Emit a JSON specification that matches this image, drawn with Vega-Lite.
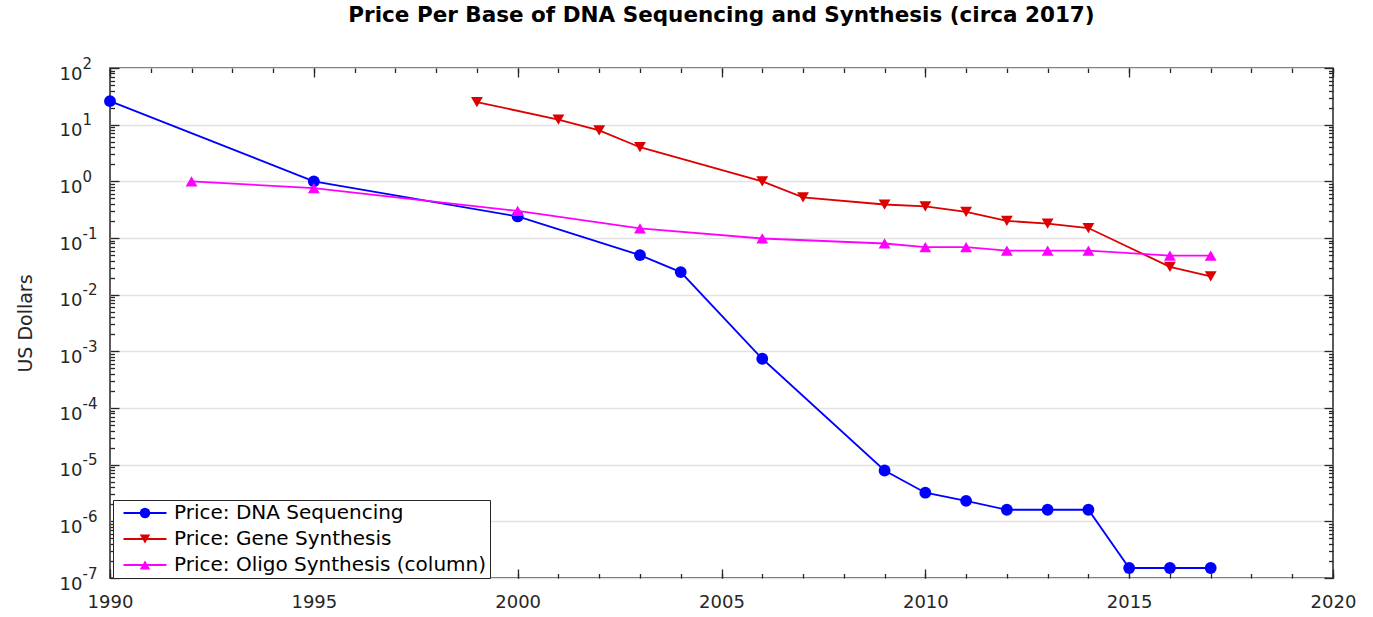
{
  "$schema": "https://vega.github.io/schema/vega-lite/v6.json",
  "width": 1223,
  "height": 510,
  "autosize": {"type": "none"},
  "padding": {"left": 110, "top": 68, "right": 40, "bottom": 39},
  "background": "white",
  "title": {"text": "Price Per Base of DNA Sequencing and Synthesis (circa 2017)", "font": "DejaVu Sans", "fontSize": 21.5, "fontWeight": "bold", "color": "#000000", "anchor": "middle", "offset": 30},
  "config": {
    "view": {"stroke": "#262626", "strokeWidth": 1.5},
    "axis": {"domain": false, "labelFont": "DejaVu Sans", "labelColor": "#262626", "tickColor": "#262626", "tickWidth": 1.3, "titleFont": "DejaVu Sans", "labelFlush": false, "labelOverlap": false, "labelBound": false}
  },
  "data": {"values": [
    {"series": "Price: DNA Sequencing", "year": 1990, "price": 26},
    {"series": "Price: DNA Sequencing", "year": 1995, "price": 1.0},
    {"series": "Price: DNA Sequencing", "year": 2000, "price": 0.24},
    {"series": "Price: DNA Sequencing", "year": 2003, "price": 0.05},
    {"series": "Price: DNA Sequencing", "year": 2004, "price": 0.025},
    {"series": "Price: DNA Sequencing", "year": 2006, "price": 0.00074},
    {"series": "Price: DNA Sequencing", "year": 2009, "price": 0.0000079},
    {"series": "Price: DNA Sequencing", "year": 2010, "price": 0.0000032},
    {"series": "Price: DNA Sequencing", "year": 2011, "price": 0.0000023},
    {"series": "Price: DNA Sequencing", "year": 2012, "price": 0.0000016},
    {"series": "Price: DNA Sequencing", "year": 2013, "price": 0.0000016},
    {"series": "Price: DNA Sequencing", "year": 2014, "price": 0.0000016},
    {"series": "Price: DNA Sequencing", "year": 2015, "price": 1.5e-7},
    {"series": "Price: DNA Sequencing", "year": 2016, "price": 1.5e-7},
    {"series": "Price: DNA Sequencing", "year": 2017, "price": 1.5e-7},
    {"series": "Price: Gene Synthesis", "year": 1999, "price": 25},
    {"series": "Price: Gene Synthesis", "year": 2001, "price": 12.3},
    {"series": "Price: Gene Synthesis", "year": 2002, "price": 7.9},
    {"series": "Price: Gene Synthesis", "year": 2003, "price": 4.0},
    {"series": "Price: Gene Synthesis", "year": 2006, "price": 1.0},
    {"series": "Price: Gene Synthesis", "year": 2007, "price": 0.52},
    {"series": "Price: Gene Synthesis", "year": 2009, "price": 0.39},
    {"series": "Price: Gene Synthesis", "year": 2010, "price": 0.36},
    {"series": "Price: Gene Synthesis", "year": 2011, "price": 0.29},
    {"series": "Price: Gene Synthesis", "year": 2012, "price": 0.2},
    {"series": "Price: Gene Synthesis", "year": 2013, "price": 0.18},
    {"series": "Price: Gene Synthesis", "year": 2014, "price": 0.15},
    {"series": "Price: Gene Synthesis", "year": 2016, "price": 0.031},
    {"series": "Price: Gene Synthesis", "year": 2017, "price": 0.021},
    {"series": "Price: Oligo Synthesis (column)", "year": 1992, "price": 1.0},
    {"series": "Price: Oligo Synthesis (column)", "year": 1995, "price": 0.76},
    {"series": "Price: Oligo Synthesis (column)", "year": 2000, "price": 0.3},
    {"series": "Price: Oligo Synthesis (column)", "year": 2003, "price": 0.148},
    {"series": "Price: Oligo Synthesis (column)", "year": 2006, "price": 0.098},
    {"series": "Price: Oligo Synthesis (column)", "year": 2009, "price": 0.08},
    {"series": "Price: Oligo Synthesis (column)", "year": 2010, "price": 0.069},
    {"series": "Price: Oligo Synthesis (column)", "year": 2011, "price": 0.069},
    {"series": "Price: Oligo Synthesis (column)", "year": 2012, "price": 0.06},
    {"series": "Price: Oligo Synthesis (column)", "year": 2013, "price": 0.06},
    {"series": "Price: Oligo Synthesis (column)", "year": 2014, "price": 0.06},
    {"series": "Price: Oligo Synthesis (column)", "year": 2016, "price": 0.049},
    {"series": "Price: Oligo Synthesis (column)", "year": 2017, "price": 0.049}
  ]},
  "layer": [
    {
      "mark": {"type": "line", "strokeWidth": 1.8},
      "encoding": {
        "x": {"field": "year", "type": "quantitative", "scale": {"domain": [1990, 2020], "nice": false, "zero": false},
          "axis": {"orient": "bottom", "values": [1990, 1995, 2000, 2005, 2010, 2015, 2020], "format": "d", "title": null, "grid": false, "ticks": true, "tickSize": -9, "labelPadding": 24, "labelFontSize": 18}},
        "y": {"field": "price", "type": "quantitative", "scale": {"type": "log", "domain": [1e-7, 100], "nice": false},
          "axis": {"orient": "left", "values": [1e-7, 1e-6, 1e-5, 1e-4, 1e-3, 1e-2, 1e-1, 1, 10, 100], "labelExpr": "'10'", "labelFontSize": 18, "labelAlign": "right", "labelBaseline": "middle", "labelOffset": 6, "ticks": true, "tickSize": -9, "labelPadding": 37, "grid": true, "gridColor": "#e3e3e3", "gridWidth": 1.5, "title": "US Dollars", "titleFontSize": 19, "titleFontWeight": "normal", "titleColor": "#262626", "titleX": -79, "titleY": 255, "titleBaseline": "alphabetic", "titleAngle": -90, "titleAlign": "center",
            "encode": {"labels": {"update": {"dx": {"signal": "datum.value < 1 ? -5 : 0"}}}}}},
        "color": {"field": "series", "type": "nominal",
          "scale": {"domain": ["Price: DNA Sequencing", "Price: Gene Synthesis", "Price: Oligo Synthesis (column)"], "range": ["#0000ff", "#dd0000", "#ff00ff"]},
          "legend": {"title": null, "orient": "none", "legendX": 3, "legendY": 432, "direction": "vertical", "strokeColor": "#262626", "fillColor": "white", "padding": 3, "labelFont": "DejaVu Sans", "labelFontSize": 20, "labelColor": "#000000", "labelLimit": 400, "symbolType": "M-4.3,0H4.3", "symbolSize": 100, "symbolStrokeWidth": 1.8, "symbolOffset": 19, "labelOffset": 19, "rowPadding": 6, "clipHeight": 20}}
      }
    },
    {
      "mark": {"type": "point", "filled": true, "opacity": 1},
      "encoding": {
        "x": {"field": "year", "type": "quantitative", "scale": {"domain": [1990, 2020], "nice": false, "zero": false},
          "axis": {"orient": "bottom", "values": [1990, 1991, 1992, 1993, 1994, 1995, 1996, 1997, 1998, 1999, 2000, 2001, 2002, 2003, 2004, 2005, 2006, 2007, 2008, 2009, 2010, 2011, 2012, 2013, 2014, 2015, 2016, 2017, 2018, 2019, 2020], "labels": false, "ticks": true, "tickSize": -4.5, "grid": false, "title": null}},
        "y": {"field": "price", "type": "quantitative", "scale": {"type": "log", "domain": [1e-7, 100], "nice": false},
          "axis": {"orient": "left", "values": [1e-7, 1e-6, 1e-5, 1e-4, 1e-3, 1e-2, 1e-1, 1, 10, 100], "labelExpr": "'' + round(log(datum.value) / LN10)", "labelFontSize": 15, "labelAlign": "left", "labelBaseline": "middle", "labelOffset": -5, "ticks": false, "labelPadding": 28, "grid": false, "title": null,
            "encode": {"labels": {"update": {"dx": {"signal": "datum.value < 1 ? -5 : 0"}}}}}},
        "fill": {"field": "series", "type": "nominal",
          "scale": {"range": ["#0000ff", "#dd0000", "#ff00ff"]},
          "legend": {"title": null, "orient": "none", "legendX": 3, "legendY": 432, "direction": "vertical", "strokeColor": "transparent", "fillColor": "transparent", "padding": 3, "labelFont": "DejaVu Sans", "labelFontSize": 20, "labelOpacity": 0, "labelLimit": 400, "symbolSize": 110, "symbolStrokeWidth": 0, "symbolOffset": 19, "labelOffset": 19, "rowPadding": 6, "clipHeight": 20}},
        "shape": {"field": "series", "type": "nominal",
          "scale": {"range": ["circle", "triangle-down", "triangle-up"]},
          "legend": {"title": null, "orient": "none", "legendX": 3, "legendY": 432, "direction": "vertical", "strokeColor": "transparent", "fillColor": "transparent", "padding": 3, "labelFont": "DejaVu Sans", "labelFontSize": 20, "labelOpacity": 0, "labelLimit": 400, "symbolSize": 110, "symbolStrokeWidth": 0, "symbolOffset": 19, "labelOffset": 19, "rowPadding": 6, "clipHeight": 20}},
        "size": {"field": "series", "type": "nominal",
          "scale": {"domain": ["Price: Gene Synthesis", "Price: Oligo Synthesis (column)", "Price: DNA Sequencing"], "range": [140, 140, 100]},
          "legend": null}
      }
    },
    {
      "transform": [{"filter": "datum.year < 1900"}],
      "mark": {"type": "point", "opacity": 0},
      "encoding": {
        "x": {"field": "year", "type": "quantitative", "scale": {"domain": [1990, 2020], "nice": false, "zero": false},
          "axis": {"orient": "top", "values": [1990, 1995, 2000, 2005, 2010, 2015, 2020], "labels": false, "ticks": true, "tickSize": -9, "grid": false, "title": null}},
        "y": {"field": "price", "type": "quantitative", "scale": {"type": "log", "domain": [1e-7, 100], "nice": false},
          "axis": {"orient": "left", "values": [2e-7, 3e-7, 4e-7, 5e-7, 6e-7, 7e-7, 8e-7, 9e-7, 2e-6, 3e-6, 4e-6, 5e-6, 6e-6, 7e-6, 8e-6, 9e-6, 2e-5, 3e-5, 4e-5, 5e-5, 6e-5, 7e-5, 8e-5, 9e-5, 2e-4, 3e-4, 4e-4, 5e-4, 6e-4, 7e-4, 8e-4, 9e-4, 2e-3, 3e-3, 4e-3, 5e-3, 6e-3, 7e-3, 8e-3, 9e-3, 0.02, 0.03, 0.04, 0.05, 0.06, 0.07, 0.08, 0.09, 0.2, 0.3, 0.4, 0.5, 0.6, 0.7, 0.8, 0.9, 2, 3, 4, 5, 6, 7, 8, 9, 20, 30, 40, 50, 60, 70, 80, 90], "labels": false, "ticks": true, "tickSize": -4.5, "grid": false, "title": null}}
      }
    },
    {
      "transform": [{"filter": "datum.year < 1900"}],
      "mark": {"type": "point", "opacity": 0},
      "encoding": {
        "x": {"field": "year", "type": "quantitative", "scale": {"domain": [1990, 2020], "nice": false, "zero": false},
          "axis": {"orient": "top", "values": [1990, 1991, 1992, 1993, 1994, 1995, 1996, 1997, 1998, 1999, 2000, 2001, 2002, 2003, 2004, 2005, 2006, 2007, 2008, 2009, 2010, 2011, 2012, 2013, 2014, 2015, 2016, 2017, 2018, 2019, 2020], "labels": false, "ticks": true, "tickSize": -4.5, "grid": false, "title": null}},
        "y": {"field": "price", "type": "quantitative", "scale": {"type": "log", "domain": [1e-7, 100], "nice": false},
          "axis": {"orient": "right", "values": [1e-7, 1e-6, 1e-5, 1e-4, 1e-3, 1e-2, 1e-1, 1, 10, 100], "labels": false, "ticks": true, "tickSize": -9, "grid": false, "title": null}}
      }
    },
    {
      "transform": [{"filter": "datum.year < 1900"}],
      "mark": {"type": "point", "opacity": 0},
      "encoding": {
        "x": {"field": "year", "type": "quantitative", "scale": {"domain": [1990, 2020], "nice": false, "zero": false}, "axis": null},
        "y": {"field": "price", "type": "quantitative", "scale": {"type": "log", "domain": [1e-7, 100], "nice": false},
          "axis": {"orient": "right", "values": [2e-7, 3e-7, 4e-7, 5e-7, 6e-7, 7e-7, 8e-7, 9e-7, 2e-6, 3e-6, 4e-6, 5e-6, 6e-6, 7e-6, 8e-6, 9e-6, 2e-5, 3e-5, 4e-5, 5e-5, 6e-5, 7e-5, 8e-5, 9e-5, 2e-4, 3e-4, 4e-4, 5e-4, 6e-4, 7e-4, 8e-4, 9e-4, 2e-3, 3e-3, 4e-3, 5e-3, 6e-3, 7e-3, 8e-3, 9e-3, 0.02, 0.03, 0.04, 0.05, 0.06, 0.07, 0.08, 0.09, 0.2, 0.3, 0.4, 0.5, 0.6, 0.7, 0.8, 0.9, 2, 3, 4, 5, 6, 7, 8, 9, 20, 30, 40, 50, 60, 70, 80, 90], "labels": false, "ticks": true, "tickSize": -4.5, "grid": false, "title": null}}
      }
    }
  ],
  "resolve": {"axis": {"x": "independent", "y": "independent"}}
}
